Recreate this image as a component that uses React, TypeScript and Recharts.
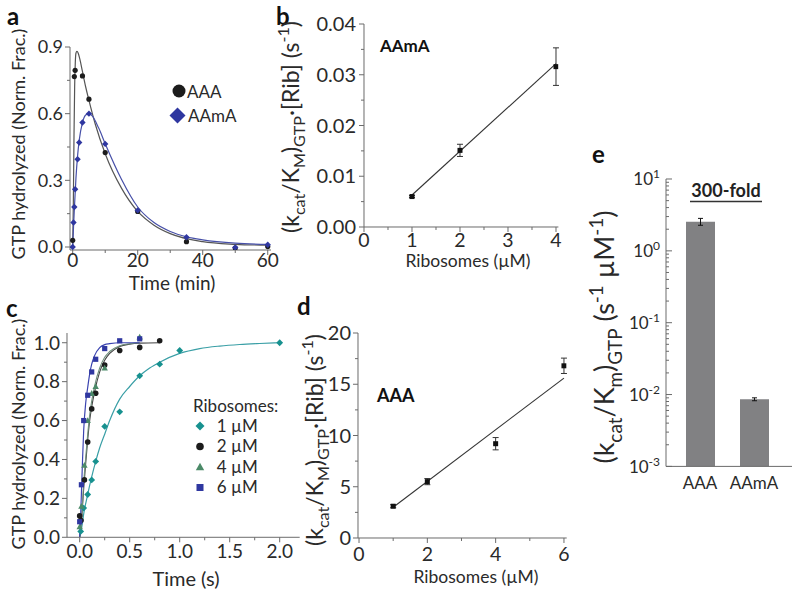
import React from 'react';
import { ComposedChart, BarChart, Bar, Line, Scatter, XAxis, YAxis, ErrorBar } from 'recharts';

const FONT = 'Lato, "Open Sans", sans-serif';
const AXIS = '#6a6a6a';
const INK = '#2a2a2a';

// panel a: GTP hydrolysis over time (min)
const aTimeAAA = [0, 0.5, 0.75, 3, 5, 10, 20, 35, 50, 60];
const aValAAA = [0.03, 0.767, 0.795, 0.77, 0.665, 0.425, 0.16, 0.024, -0.005, 0.002];
const aTimeAAmA = [0, 0.25, 0.5, 0.75, 1.5, 2, 3, 5, 10, 20, 35, 50, 60];
const aValAAmA = [0, 0.11, 0.18, 0.26, 0.395, 0.47, 0.56, 0.6, 0.464, 0.165, 0.044, -0.002, 0.01];
const aFitTimeAAA = [0, 0.2, 0.4, 0.6, 0.8, 1, 1.3, 1.7, 2.2, 3, 4, 5, 7, 10, 15, 20, 25, 30, 40, 50, 60];
const aFitAAA = [0, 0.2, 0.5, 0.72, 0.83, 0.872, 0.88, 0.872, 0.845, 0.79, 0.72, 0.66, 0.55, 0.42, 0.265, 0.16, 0.098, 0.06, 0.024, 0.012, 0.008];
const aFitTimeAAmA = [0, 0.25, 0.5, 1, 1.5, 2, 3, 4, 5, 6, 8, 10, 15, 20, 25, 30, 35, 40, 50, 60];
const aFitAAmA = [0, 0.09, 0.17, 0.31, 0.41, 0.48, 0.56, 0.594, 0.6, 0.59, 0.535, 0.465, 0.305, 0.18, 0.11, 0.07, 0.046, 0.032, 0.017, 0.012];
const aYMajor = [0, 0.3, 0.6, 0.9];
const aYMinor = [0.15, 0.45, 0.75];
const aXMajor = [0, 20, 40, 60];
const aXMinor = [10, 30, 50];

// panel b: AAmA rate vs ribosomes
const bRib = [1, 2, 4];
const bRate = [0.006, 0.0151, 0.0316];
const bErr = [0.0002, 0.0012, 0.0037];
const bFitRib = [1, 4];
const bFitRate = [0.0063, 0.0322];
const bYMajor = [0, 0.01, 0.02, 0.03, 0.04];
const bYMinor = [0.005, 0.015, 0.025, 0.035];
const bXMajor = [0, 1, 2, 3, 4];
const bXMinor = [0.5, 1.5, 2.5, 3.5];

// panel c: GTP hydrolysis over time (s) at different ribosome levels
const cTime1 = [0.01, 0.04, 0.08, 0.12, 0.16, 0.25, 0.4, 0.6, 0.8, 1.0, 2.0];
const cVal1 = [0.03, 0.15, 0.22, 0.295, 0.39, 0.57, 0.645, 0.83, 0.89, 0.96, 1.0];
const cTime2 = [0, 0.013, 0.047, 0.08, 0.12, 0.16, 0.25, 0.4, 0.6, 0.8];
const cVal2 = [0.11, 0.086, 0.295, 0.49, 0.66, 0.74, 0.885, 0.96, 0.976, 1.01];
const cTime4 = [0, 0.017, 0.047, 0.08, 0.12, 0.16, 0.25, 0.6];
const cVal4 = [0.055, 0.16, 0.37, 0.6, 0.74, 0.775, 0.87, 1.03];
const cTime6 = [0, 0.017, 0.04, 0.08, 0.12, 0.16, 0.25, 0.4, 0.6];
const cVal6 = [0.08, 0.27, 0.6, 0.73, 0.85, 0.915, 0.97, 1.01, 1.02];
const cFitTime1 = [0, 0.02, 0.04, 0.08, 0.12, 0.16, 0.2, 0.25, 0.3, 0.4, 0.5, 0.6, 0.7, 0.8, 1.0, 1.2, 1.4, 1.6, 1.8, 2.0];
const cFit1 = [0, 0.05, 0.12, 0.22, 0.31, 0.39, 0.46, 0.53, 0.6, 0.71, 0.775, 0.83, 0.87, 0.9, 0.945, 0.97, 0.983, 0.991, 0.996, 1.0];
const cFitTime2 = [0, 0.02, 0.04, 0.06, 0.08, 0.1, 0.12, 0.15, 0.2, 0.25, 0.3, 0.4, 0.5, 0.6, 0.8];
const cFit2 = [0, 0.1, 0.25, 0.38, 0.5, 0.6, 0.67, 0.75, 0.85, 0.91, 0.945, 0.98, 0.993, 0.998, 1.0];
const cFitTime4 = [0, 0.02, 0.04, 0.06, 0.08, 0.1, 0.12, 0.15, 0.2, 0.25, 0.3, 0.4, 0.5, 0.6];
const cFit4 = [0, 0.11, 0.28, 0.41, 0.53, 0.63, 0.7, 0.78, 0.87, 0.925, 0.955, 0.985, 0.995, 1.0];
const cFitTime6 = [0, 0.01, 0.02, 0.03, 0.04, 0.06, 0.08, 0.1, 0.12, 0.15, 0.2, 0.25, 0.3, 0.4, 0.6];
const cFit6 = [0, 0.12, 0.27, 0.42, 0.55, 0.69, 0.77, 0.84, 0.89, 0.935, 0.975, 0.99, 0.995, 1.0, 1.0];
const cLegend = ['1 µM', '2 µM', '4 µM', '6 µM'];
const cYMajor = [0, 0.2, 0.4, 0.6, 0.8, 1.0];
const cYMinor = [0.1, 0.3, 0.5, 0.7, 0.9];
const cXMajor = [0, 0.5, 1, 1.5, 2];
const cXMinor = [0.25, 0.75, 1.25, 1.75];

// panel d: AAA rate vs ribosomes
const dRib = [1, 2, 4, 6];
const dRate = [3.1, 5.5, 9.2, 16.8];
const dErr = [0.15, 0.3, 0.6, 0.75];
const dFitRib = [1, 6];
const dFitRate = [3.0, 15.6];
const dYMajor = [0, 5, 10, 15, 20];
const dYMinor = [2.5, 7.5, 12.5, 17.5];
const dXMajor = [0, 2, 4, 6];
const dXMinor = [1, 3, 5];

// panel e: kcat/Km on log axis
const eCats = ['AAA', 'AAmA'];
const eVals = [2.55, 0.0086];
const eErrs = [0.28, 0.0004];
const eYMajor = [0.001, 0.01, 0.1, 1, 10];

const pts = (ts: number[], vs: number[], es?: number[]) =>
  ts.map((t, i) => ({ t, v: vs[i], e: es ? es[i] : 0 }));
const eYMinor = eYMajor.slice(0, -1).flatMap((m) => [2, 3, 4, 5, 6, 7, 8, 9].map((k) => m * k));
const eData = eCats.map((name, i) => ({ name, v: eVals[i], e: eErrs[i] }));

const YW = 64;
const XH = 56;
const MT = 14;
const MR = 14;

function frame(L: number, T: number, R: number, B: number) {
  return { left: L - YW, top: T - MT, width: YW + R - L + MR, height: MT + B - T + XH };
}

const isIn = (list: number[], v: number) => list.some((m) => Math.abs(m - v) <= Math.abs(m) * 1e-6 + 1e-12);

interface TickSpec {
  majors: number[];
  label: (v: any) => React.ReactNode;
  fs: number;
  off: number;
  inward?: boolean;
  len?: number;
}

const leftTick = (s: TickSpec) => (p: any) => {
  const v = Number(p.payload.value);
  const major = isIn(s.majors, v);
  const len = major ? s.len ?? 5 : 3;
  const x2 = s.inward ? p.x + len : p.x - len;
  return (
    <g>
      <line x1={p.x} y1={p.y} x2={x2} y2={p.y} stroke={AXIS} strokeWidth={1} />
      {major && (
        <text x={p.x - s.off} y={p.y + 0.36 * s.fs} textAnchor="end" fontSize={s.fs} fontFamily={FONT} fill={INK}>
          {s.label(v)}
        </text>
      )}
    </g>
  );
};

const bottomTick = (s: TickSpec) => (p: any) => {
  const v = Number(p.payload.value);
  const major = isIn(s.majors, v);
  const len = major ? s.len ?? 5 : 3;
  return (
    <g>
      <line x1={p.x} y1={p.y} x2={p.x} y2={p.y + len} stroke={AXIS} strokeWidth={1} />
      {major && (
        <text x={p.x} y={p.y + s.off + 0.72 * s.fs} textAnchor="middle" fontSize={s.fs} fontFamily={FONT} fill={INK}>
          {s.label(v)}
        </text>
      )}
    </g>
  );
};

const catTick = (p: any) => (
  <text x={p.x} y={p.y + 10 + 0.72 * 17} textAnchor="middle" fontSize={17} fontFamily={FONT} fill={INK}>
    {p.payload.value}
  </text>
);

const dot = (r: number, fill: string) => (p: any) => <circle cx={p.cx} cy={p.cy} r={r} fill={fill} />;
const diamond = (h: number, fill: string) => (p: any) => (
  <polygon points={`${p.cx},${p.cy - h} ${p.cx + h},${p.cy} ${p.cx},${p.cy + h} ${p.cx - h},${p.cy}`} fill={fill} />
);
const tri = (h: number, fill: string) => (p: any) => (
  <polygon points={`${p.cx},${p.cy - h} ${p.cx + h},${p.cy + h * 0.8} ${p.cx - h},${p.cy + h * 0.8}`} fill={fill} />
);
const square = (h: number, fill: string) => (p: any) => (
  <rect x={p.cx - h} y={p.cy - h} width={2 * h} height={2 * h} fill={fill} />
);

const axisProps = {
  tickLine: false,
  tickSize: 0,
  tickMargin: 0,
  interval: 0 as const,
  axisLine: { stroke: AXIS, strokeWidth: 1 },
  allowDataOverflow: true,
};

function Positioned({ f, children }: { f: ReturnType<typeof frame>; children: React.ReactNode }) {
  return <div style={{ position: 'absolute', left: f.left, top: f.top, width: f.width, height: f.height }}>{children}</div>;
}

function KTitle({ x, y, fs, m, tail }: { x: number; y: number; fs: number; m: string; tail: 'rib' | 'perM' }) {
  const s = fs * 0.7;
  const dn = fs * 0.28;
  const up = fs * 0.42;
  return (
    <text transform={`translate(${x},${y}) rotate(-90)`} textAnchor="middle" fontSize={fs} fontFamily={FONT} fill={INK}>
      (k
      <tspan fontSize={s} dy={dn}>cat</tspan>
      <tspan dy={-dn}>/K</tspan>
      <tspan fontSize={s} dy={dn}>{m}</tspan>
      <tspan dy={-dn}>)</tspan>
      <tspan fontSize={s} dy={dn}>GTP</tspan>
      {tail === 'rib' ? (
        <>
          <tspan dy={-dn}>{'·[Rib] (s'}</tspan>
          <tspan fontSize={s} dy={-up}>-1</tspan>
          <tspan dy={up}>)</tspan>
        </>
      ) : (
        <>
          <tspan dy={-dn}>{' (s'}</tspan>
          <tspan fontSize={s} dy={-up}>-1</tspan>
          <tspan dy={up}>{' µM'}</tspan>
          <tspan fontSize={s} dy={-up}>-1</tspan>
          <tspan dy={up}>)</tspan>
        </>
      )}
    </text>
  );
}

const fA = frame(70, 47, 271, 250);
const fB = frame(364, 24, 558.4, 227);
const fC = frame(67.3, 333, 300, 537.3);
const fD = frame(358.3, 333.3, 567, 538.3);
const fE = frame(666, 179.3, 792, 466.7);
const margin = { top: MT, right: MR, left: 0, bottom: 0 };

const C_TEAL = '#17918f';
const C_BLACK = '#1c1c1c';
const C_GREEN = '#4b8a68';
const C_BLUE = '#2f37a0';

export default function App() {
  const cLegendShapes = [
    diamond(4.5, C_TEAL),
    dot(3.8, C_BLACK),
    tri(4.2, C_GREEN),
    square(3.5, C_BLUE),
  ];
  const rows = [426, 446.5, 467, 487.5];
  return (
    <div style={{ position: 'absolute', left: 0, top: 0, width: 800, height: 595, background: '#fff', overflow: 'hidden' }}>
      {/* a */}
      <Positioned f={fA}>
        <ComposedChart width={fA.width} height={fA.height} margin={margin}>
          <XAxis {...axisProps} type="number" dataKey="t" domain={[-0.83, 61]} ticks={[...aXMajor, ...aXMinor]} height={XH}
            tick={bottomTick({ majors: aXMajor, label: (v) => String(v), fs: 19, off: 3 })} />
          <YAxis {...axisProps} type="number" dataKey="v" domain={[-0.0135, 0.9]} ticks={[...aYMajor, ...aYMinor]} width={YW}
            tick={leftTick({ majors: aYMajor, label: (v) => v.toFixed(1), fs: 18, off: 7 })} />
          <Line data={pts(aFitTimeAAA, aFitAAA)} dataKey="v" type="monotone" dot={false} stroke="#555" strokeWidth={1.2} isAnimationActive={false} />
          <Line data={pts(aFitTimeAAmA, aFitAAmA)} dataKey="v" type="monotone" dot={false} stroke="#4750a8" strokeWidth={1.2} isAnimationActive={false} />
          <Scatter data={pts(aTimeAAA, aValAAA)} dataKey="v" shape={dot(2.6, C_BLACK)} isAnimationActive={false} />
          <Scatter data={pts(aTimeAAmA, aValAAmA)} dataKey="v" shape={diamond(3.2, C_BLUE)} isAnimationActive={false} />
        </ComposedChart>
      </Positioned>

      {/* b */}
      <Positioned f={fB}>
        <ComposedChart width={fB.width} height={fB.height} margin={margin}>
          <XAxis {...axisProps} type="number" dataKey="t" domain={[0, 4.05]} ticks={[...bXMajor, ...bXMinor]} height={XH}
            tick={bottomTick({ majors: bXMajor, label: (v) => String(v), fs: 19.5, off: 6 })} />
          <YAxis {...axisProps} type="number" dataKey="v" domain={[0, 0.04]} ticks={[...bYMajor, ...bYMinor]} width={YW}
            tick={leftTick({ majors: bYMajor, label: (v) => v.toFixed(2), fs: 20, off: 8 })} />
          <Line data={pts(bFitRib, bFitRate)} dataKey="v" type="linear" dot={false} stroke="#333" strokeWidth={1.1} isAnimationActive={false} />
          <Scatter data={pts(bRib, bRate, bErr)} dataKey="v" shape={square(2.5, '#111')} isAnimationActive={false}>
            <ErrorBar dataKey="e" direction="y" width={3} stroke="#333" strokeWidth={1} />
          </Scatter>
        </ComposedChart>
      </Positioned>

      {/* c */}
      <Positioned f={fC}>
        <ComposedChart width={fC.width} height={fC.height} margin={margin}>
          <XAxis {...axisProps} type="number" dataKey="t" domain={[-0.127, 2.2]} ticks={[...cXMajor, ...cXMinor]} height={XH}
            tick={bottomTick({ majors: cXMajor, label: (v) => v.toFixed(1), fs: 19, off: 7.5 })} />
          <YAxis {...axisProps} type="number" dataKey="v" domain={[0, 1.05]} ticks={[...cYMajor, ...cYMinor]} width={YW}
            tick={leftTick({ majors: cYMajor, label: (v) => v.toFixed(1), fs: 19, off: 7 })} />
          <Line data={pts(cFitTime1, cFit1)} dataKey="v" type="monotone" dot={false} stroke="#3a9fa6" strokeWidth={1.2} isAnimationActive={false} />
          <Line data={pts(cFitTime2, cFit2)} dataKey="v" type="monotone" dot={false} stroke="#444" strokeWidth={1.1} isAnimationActive={false} />
          <Line data={pts(cFitTime4, cFit4)} dataKey="v" type="monotone" dot={false} stroke="#6f8f7c" strokeWidth={1.1} isAnimationActive={false} />
          <Line data={pts(cFitTime6, cFit6)} dataKey="v" type="monotone" dot={false} stroke="#3b44b0" strokeWidth={1.2} isAnimationActive={false} />
          <Scatter data={pts(cTime1, cVal1)} dataKey="v" shape={diamond(3.4, C_TEAL)} isAnimationActive={false} />
          <Scatter data={pts(cTime2, cVal2)} dataKey="v" shape={dot(2.8, C_BLACK)} isAnimationActive={false} />
          <Scatter data={pts(cTime4, cVal4)} dataKey="v" shape={tri(3.2, C_GREEN)} isAnimationActive={false} />
          <Scatter data={pts(cTime6, cVal6)} dataKey="v" shape={square(2.6, C_BLUE)} isAnimationActive={false} />
        </ComposedChart>
      </Positioned>

      {/* d */}
      <Positioned f={fD}>
        <ComposedChart width={fD.width} height={fD.height} margin={margin}>
          <XAxis {...axisProps} type="number" dataKey="t" domain={[-0.03, 6.08]} ticks={[...dXMajor, ...dXMinor]} height={XH}
            tick={bottomTick({ majors: dXMajor, label: (v) => String(v), fs: 19.5, off: 8.5 })} />
          <YAxis {...axisProps} type="number" dataKey="v" domain={[0, 20]} ticks={[...dYMajor, ...dYMinor]} width={YW}
            tick={leftTick({ majors: dYMajor, label: (v) => String(v), fs: 20, off: 7 })} />
          <Line data={pts(dFitRib, dFitRate)} dataKey="v" type="linear" dot={false} stroke="#333" strokeWidth={1.1} isAnimationActive={false} />
          <Scatter data={pts(dRib, dRate, dErr)} dataKey="v" shape={square(2.5, '#111')} isAnimationActive={false}>
            <ErrorBar dataKey="e" direction="y" width={3} stroke="#333" strokeWidth={1} />
          </Scatter>
        </ComposedChart>
      </Positioned>

      {/* e */}
      <Positioned f={fE}>
        <BarChart width={fE.width} height={fE.height} margin={margin} data={eData} barSize={29}>
          <XAxis dataKey="name" type="category" padding={{ left: 7, right: 11 }} tickLine={false} tickSize={0} tickMargin={0}
            interval={0} axisLine={{ stroke: AXIS, strokeWidth: 1 }} height={XH} tick={catTick} />
          <YAxis {...axisProps} type="number" dataKey="v" scale="log" domain={[0.001, 10]} ticks={[...eYMajor, ...eYMinor]} width={YW}
            tick={leftTick({
              majors: eYMajor,
              fs: 17,
              off: 6,
              inward: true,
              len: 6,
              label: (v) => (
                <>
                  10<tspan fontSize={12} dy={-7}>{String(Math.round(Math.log10(v)))}</tspan>
                </>
              ),
            })} />
          <Bar dataKey="v" fill="#818183" isAnimationActive={false}>
            <ErrorBar dataKey="e" direction="y" width={2.5} stroke="#111" strokeWidth={1} />
          </Bar>
        </BarChart>
      </Positioned>

      {/* titles, panel letters and legends */}
      <svg width={800} height={595} style={{ position: 'absolute', left: 0, top: 0, pointerEvents: 'none' }} fontFamily={FONT}>
        <g fontWeight="bold" fontSize={24} fill="#111">
          <text x={7} y={25}>a</text>
          <text x={276} y={25}>b</text>
          <text x={6} y={317}>c</text>
          <text x={297} y={315}>d</text>
          <text x={592} y={163}>e</text>
        </g>

        <text transform="translate(24.5,144) rotate(-90)" textAnchor="middle" fontSize={18} fill={INK}>GTP hydrolyzed (Norm. Frac.)</text>
        <text x={172} y={290} textAnchor="middle" fontSize={19} fill={INK}>Time (min)</text>
        <circle cx={179} cy={91} r={6.5} fill={C_BLACK} />
        <text x={187} y={97.5} fontSize={17} fill={INK}>AAA</text>
        <polygon points="177.5,107.5 185.5,115.5 177.5,123.5 169.5,115.5" fill={C_BLUE} />
        <text x={188} y={122} fontSize={17} fill={INK}>AAmA</text>

        <KTitle x={299} y={127} fs={23} m="M" tail="rib" />
        <text x={468} y={267} textAnchor="middle" fontSize={17.5} fill={INK}>Ribosomes (µM)</text>
        <text x={380} y={52} fontSize={17} fontWeight="bold" fill="#111">AAmA</text>

        <text transform="translate(25,434) rotate(-90)" textAnchor="middle" fontSize={18} fill={INK}>GTP hydrolyzed (Norm. Frac.)</text>
        <text x={186} y={586} textAnchor="middle" fontSize={20} fill={INK}>Time (s)</text>
        <text x={193} y={412} fontSize={17} fill={INK}>Ribosomes:</text>
        {cLegend.map((lab, i) => (
          <g key={lab}>
            {cLegendShapes[i]({ cx: 200, cy: rows[i] })}
            <text x={216.7} y={rows[i] + 5.8} fontSize={17} fill={INK}>{lab}</text>
          </g>
        ))}

        <KTitle x={323} y={440} fs={23} m="M" tail="rib" />
        <text x={476} y={583} textAnchor="middle" fontSize={17.5} fill={INK}>Ribosomes (µM)</text>
        <text x={377} y={402} fontSize={18} fontWeight="bold" fill="#111">AAA</text>

        <KTitle x={614} y={337} fs={27} m="m" tail="perM" />
        <text x={726} y={197} textAnchor="middle" fontSize={18} fontWeight="bold" fill="#222">300-fold</text>
        <line x1={690} x2={762} y1={201.5} y2={201.5} stroke="#333" strokeWidth={1.3} />
      </svg>
    </div>
  );
}
